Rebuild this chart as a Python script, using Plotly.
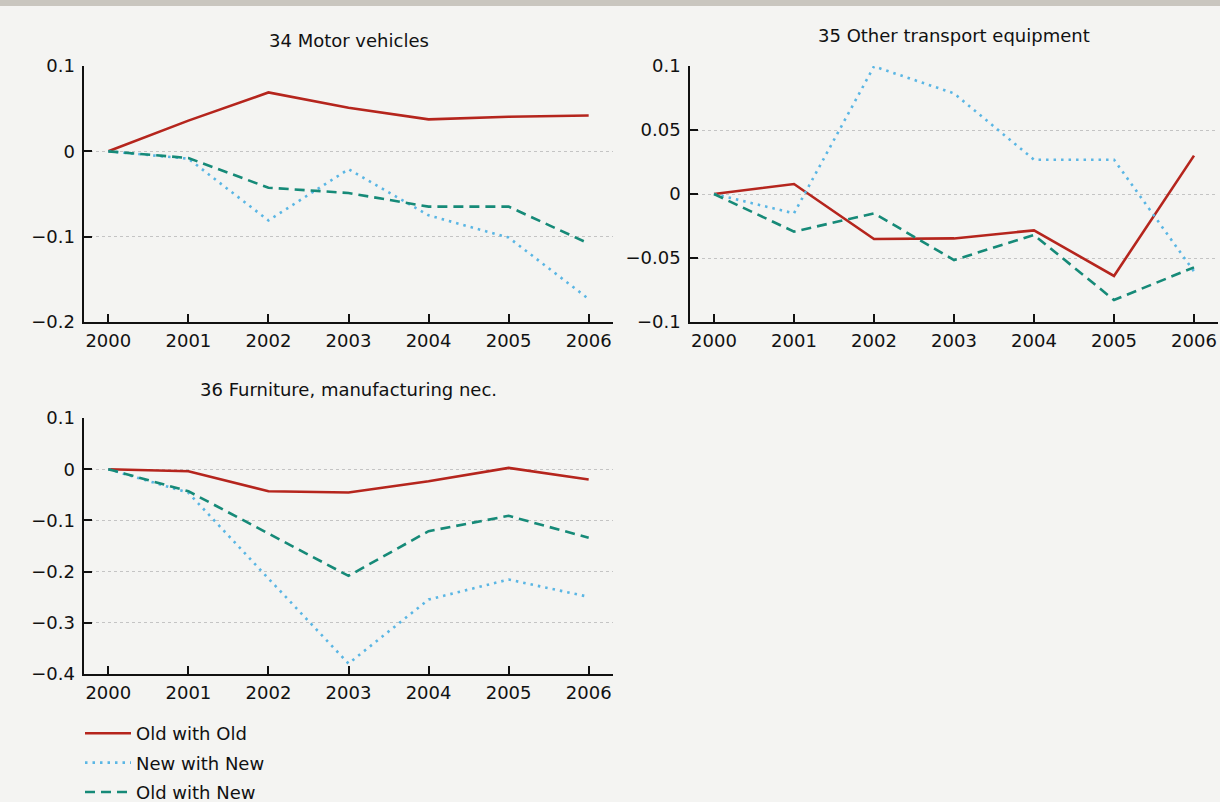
import plotly.graph_objects as go

# Years on the horizontal axis
years = [2000, 2001, 2002, 2003, 2004, 2005, 2006]

# 34 Motor vehicles
motor_old_old = [0.0, 0.036, 0.069, 0.051, 0.0375, 0.0405, 0.042]
motor_new_new = [0.0, -0.0086, -0.081, -0.021, -0.075, -0.101, -0.173]
motor_old_new = [0.0, -0.0078, -0.0426, -0.0488, -0.0648, -0.0648, -0.108]

# 35 Other transport equipment
transport_old_old = [0.0, 0.0078, -0.0352, -0.0347, -0.0284, -0.064, 0.030]
transport_new_new = [0.0, -0.0151, 0.0997, 0.0786, 0.0268, 0.0268, -0.0605]
transport_old_new = [0.0, -0.0294, -0.0151, -0.0516, -0.032, -0.0828, -0.0573]

# 36 Furniture, manufacturing nec.
furniture_old_old = [0.0, -0.0039, -0.043, -0.0456, -0.0234, 0.0026, -0.0202]
furniture_new_new = [0.0, -0.046, -0.2135, -0.3796, -0.2546, -0.2155, -0.2493]
furniture_old_new = [0.0, -0.043, -0.1257, -0.2083, -0.121, -0.0911, -0.134]

panel_titles = ["34 Motor vehicles", "35 Other transport equipment",
                "36 Furniture, manufacturing nec."]
series_names = ["Old with Old", "New with New", "Old with New"]

# Tick values / labels for each panel's vertical axis
y1_ticks = [-0.2, -0.1, 0, 0.1]
y1_text = ["\u22120.2", "\u22120.1", "0", "0.1"]
y2_ticks = [-0.1, -0.05, 0, 0.05, 0.1]
y2_text = ["\u22120.1", "\u22120.05", "0", "0.05", "0.1"]
y3_ticks = [-0.4, -0.3, -0.2, -0.1, 0, 0.1]
y3_text = ["\u22120.4", "\u22120.3", "\u22120.2", "\u22120.1", "0", "0.1"]

W, H = 1220, 802
FONT = "DejaVu Sans"
FS = 18
BG = "#f4f4f2"

styles = [
    dict(color="#b5251d", width=2.6, dash="solid"),
    dict(color="#5ab6e4", width=2.6, dash="2.5px,5px"),
    dict(color="#168a78", width=2.6, dash="10px,6px"),
]

panels = [
    (motor_old_old, motor_new_new, motor_old_new),
    (transport_old_old, transport_new_new, transport_old_new),
    (furniture_old_old, furniture_new_new, furniture_old_new),
]

fig = go.Figure()
for p, series in enumerate(panels):
    ax = "" if p == 0 else str(p + 1)
    for s, vals in enumerate(series):
        fig.add_trace(go.Scatter(
            x=years, y=vals, mode="lines", name=series_names[s],
            line=styles[s], xaxis="x" + ax, yaxis="y" + ax,
            showlegend=(p == 0), legendgroup=series_names[s],
            hoverinfo="x+y+name",
        ))


def px_x(v):
    return v / W


def px_y(v):
    return 1 - v / H


# Plot areas in pixel coordinates: (left, right, top, bottom)
boxes = [(84.3, 612.7, 66, 322), (690, 1218, 66, 322), (84.3, 612.7, 418, 674)]
yticks = [(y1_ticks, y1_text, [-0.2, 0.1]),
          (y2_ticks, y2_text, [-0.1, 0.1]),
          (y3_ticks, y3_text, [-0.4, 0.1])]

axis_common = dict(
    showline=True, linecolor="#111111", linewidth=1.6,
    ticks="inside", ticklen=8, tickwidth=1.6, tickcolor="#111111",
    zeroline=False, tickfont=dict(family=FONT, size=FS, color="#111111"),
    fixedrange=True,
)

layout = {}
for i, (l, r, t, b) in enumerate(boxes):
    ax = "" if i == 0 else str(i + 1)
    tv, tt, rng = yticks[i]
    layout["xaxis" + ax] = dict(
        axis_common, domain=[px_x(l), px_x(r)], range=[1999.7, 2006.3],
        tickvals=years, ticktext=[str(y) for y in years],
        showgrid=False, anchor="y" + ax, ticklabelstandoff=2,
    )
    layout["yaxis" + ax] = dict(
        axis_common, domain=[px_y(b), px_y(t)], range=rng,
        tickvals=tv, ticktext=tt, showgrid=True, gridcolor="#c4c4c4",
        gridwidth=1, griddash="dot", anchor="x" + ax, ticklabelstandoff=4,
    )

title_pos = [(348.5, 41), (954, 36), (348.5, 389)]
annotations = [
    dict(text=txt, x=px_x(cx), y=px_y(cy), xref="paper", yref="paper",
         xanchor="center", yanchor="middle", showarrow=False,
         font=dict(family=FONT, size=FS, color="#111111"))
    for txt, (cx, cy) in zip(panel_titles, title_pos)
]

fig.update_layout(
    width=W, height=H, autosize=False,
    margin=dict(l=0, r=0, t=0, b=0, autoexpand=False),
    paper_bgcolor=BG, plot_bgcolor=BG,
    font=dict(family=FONT, size=FS, color="#111111"),
    annotations=annotations,
    shapes=[dict(type="rect", xref="paper", yref="paper", x0=0, x1=1,
                 y0=1 - 6 / H, y1=1, line=dict(width=0),
                 fillcolor="#c9c6bf", layer="above")],
    legend=dict(x=px_x(80), y=px_y(715), xanchor="left", yanchor="top",
                bgcolor="rgba(0,0,0,0)", font=dict(family=FONT, size=FS),
                tracegroupgap=3, itemwidth=46),
    **layout,
)

fig.write_html("out.html")
